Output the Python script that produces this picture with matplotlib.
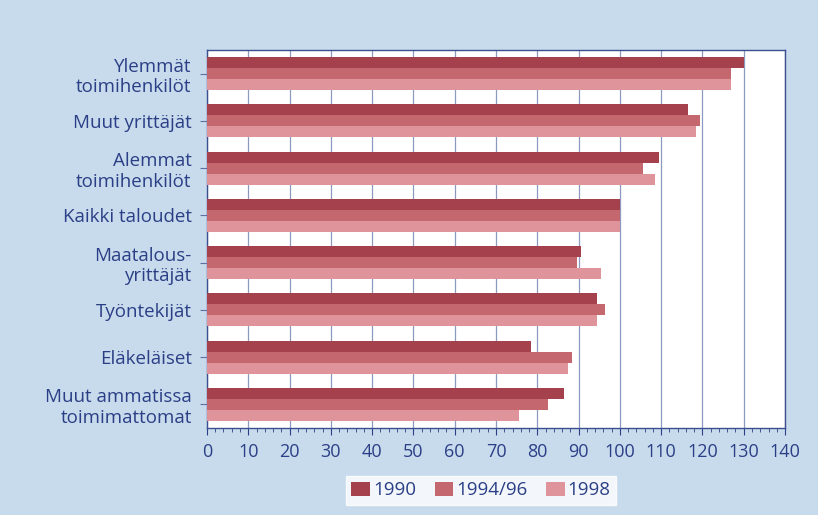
import numpy as np
import matplotlib
matplotlib.use('Agg')
import matplotlib.pyplot as plt
from matplotlib.ticker import MultipleLocator

# 데이터
categories = ['Ylemmät\ntoimihenkilöt', 'Muut yrittäjät', 'Alemmat\ntoimihenkilöt',
              'Kaikki taloudet', 'Maatalous-\nyrittäjät', 'Työntekijät',
              'Eläkeläiset', 'Muut ammatissa\ntoimimattomat']
v1990 = [130, 116.5, 109.5, 100, 90.5, 94.5, 78.5, 86.5]
v1994 = [127, 119.5, 105.5, 100, 89.5, 96.5, 88.5, 82.5]
v1998 = [127, 118.5, 108.5, 100, 95.5, 94.5, 87.5, 75.5]
series_names = ['1990', '1994/96', '1998']

plt.rcParams['font.family'] = ['Open Sans', 'DejaVu Sans']
txt = '#2b3f86'
bg = '#c8dbed'
colors = ['#a5414c', '#c4676f', '#df939b']

fig = plt.figure(figsize=(8.18, 5.15), dpi=100, facecolor=bg)
ax = fig.add_axes([0.253, 0.169, 0.7067, 0.734])
ax.set_facecolor('white')

y = np.arange(len(categories))
h = 0.233
for i, (vals, name) in enumerate(zip([v1990, v1994, v1998], series_names)):
    ax.barh(y + (i - 1) * h, vals, height=h, color=colors[i], label=name, zorder=3)

ax.set_xlim(0, 140)
ax.set_ylim(len(categories) - 0.5, -0.5)
ax.xaxis.set_major_locator(MultipleLocator(10))
ax.xaxis.set_minor_locator(MultipleLocator(2))
ax.set_yticks(y)
ax.set_yticklabels(categories, ha='right', fontsize=13.5, color=txt, linespacing=1.2)
ax.tick_params(axis='x', which='major', labelsize=13, color=txt, labelcolor=txt,
               length=5, width=0.8, pad=6)
ax.tick_params(axis='x', which='minor', length=3, width=0.6, color=txt)
ax.tick_params(axis='y', length=5, width=0.8, color='#6070a0', labelcolor=txt, pad=6)

ax.grid(axis='x', color='#8c9ac0', linewidth=0.9, zorder=0)
for s in ax.spines.values():
    s.set_color('#3c508f')
    s.set_linewidth(1.0)

leg = fig.legend(loc='center', bbox_to_anchor=(0.588, 0.048), ncol=3, frameon=True,
                 fontsize=13.5, handlelength=1.0, handleheight=0.8, handletextpad=0.15,
                 columnspacing=1.0, borderpad=0.3, fancybox=False)
leg.get_frame().set_facecolor('white')
leg.get_frame().set_edgecolor('white')
for t in leg.get_texts():
    t.set_color(txt)

fig.savefig('out.png', dpi=100, facecolor=bg)
